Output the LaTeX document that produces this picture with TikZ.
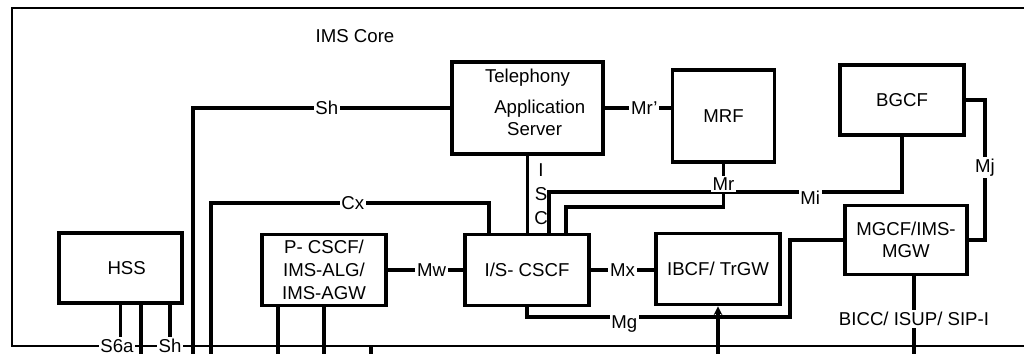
\documentclass[tikz,border=0pt]{standalone}
\usepackage{fontspec}
\setmainfont{Liberation Sans}
\usetikzlibrary{arrows.meta,positioning}
\newcommand{\px}{0.02cm}
\tikzset{
  nebox/.style 2 args={draw, line width=2.1pt, fill=white, align=center,
    inner sep=1pt, minimum width=#1*\px, minimum height=#2*\px},
  link/.style={line width=1.9pt},
  ifname/.style={fill=white, inner sep=1pt},
}

\begin{document}
\begin{tikzpicture}[x=\px,y=-\px,font=\fontsize{10.6}{12.5}\selectfont,>=Stealth]
\useasboundingbox (0,0) rectangle (1024,354);
% frame of the core
\draw[line width=1.2pt] (1040,8) -- (12,8) -- (12,346) -- (1040,346);
\coordinate (frbot) at (0,346);
\node (core) at (355,36) {IMS Core};
% boxes
\node[nebox={151}{92}, text depth=6.5pt] (tas) at (527.5,108) {Telephony\\[5pt]\hspace*{14pt}Application\\\hspace*{8pt}Server};
\node[nebox={102}{92}] (mrf) at (723.5,116) {MRF};
\node[nebox={124}{70}] (bgcf) at (902,100) {BGCF};
\node[nebox={123}{70}] (hss) at (120.5,268) {\hspace*{7pt}HSS};
\node[nebox={124}{71}] (pcscf) at (324,270) {P- CSCF/\\[0.5pt]IMS-ALG/\\[0.5pt]IMS-AGW};
\node[nebox={124}{71}] (iscscf) at (527,270) {I/S- CSCF};
\node[nebox={124}{71}] (ibcf) at (718,269) {IBCF/ TrGW};
\node[nebox={122}{69}] (mgcf) at (906,240) {MGCF/IMS-\\MGW};
% Sh and Cx towards the HSS
\coordinate (shdown) at (193,360);
\draw[link] (tas.west) -- node[ifname,pos=0.48] (shlbl) {Sh} (tas.west -| shdown) -- (shdown);
\coordinate (cxc) at (489,203);
\coordinate (cxdown) at (211,360);
\draw[link] (cxc |- iscscf.north) -- (cxc) -- node[ifname,pos=0.49] (cxlbl) {Cx} (cxc -| cxdown) -- (cxdown);
% Mw, Mx, Mr'
\draw[link] (pcscf.east) -- node[ifname,pos=0.58] (mwlbl) {Mw} (iscscf.west |- pcscf.east);
\draw[link] (iscscf.east) -- node[ifname] (mxlbl) {Mx} (ibcf.west |- iscscf.east);
\draw[link] (tas.east) -- node[ifname,pos=0.6] (mrplbl) {Mr'} (mrf.west |- tas.east);
% ISC
\draw[link] (tas.south) -- (tas.south |- iscscf.north);
\node[align=center, font=\fontsize{10.6}{13.5}\selectfont] (isclbl) at (541,194) {I\\S\\C};
% Mi
\coordinate (mic) at (549,192);
\draw[link] (mic |- iscscf.north) -- (mic) -- node[ifname,pos=0.74,yshift=-3pt] (milbl) {Mi} (mic -| bgcf.south) -- (bgcf.south);
% Mr
\coordinate (mrc) at (566,207);
\draw[link] (mrc |- iscscf.north) -- (mrc) -- (mrc -| mrf.south) -- node[ifname,pos=0.53] (mrlbl) {Mr} (mrf.south);
% Mj
\coordinate (mjc) at (985,0);
\draw[link] (bgcf.east) -- (bgcf.east -| mjc) -- node[ifname,pos=0.48] (mjlbl) {Mj} (mjc |- mgcf.east) -- (mgcf.east);
% Mg
\coordinate (mgc) at (790,317);
\draw[link] (iscscf.south) -- (iscscf.south |- mgc) -- node[ifname,pos=0.37,yshift=-4pt] (mglbl) {Mg} (mgc) -- (mgc |- mgcf.west) -- (mgcf.west);
% lines leaving the core
\coordinate (ibin) at (718,360);
\draw[link,-{Stealth[length=5pt,width=5pt]}] (ibin) -- (ibin |- ibcf.south);
\coordinate (biccdown) at (914,360);
\draw[link] (biccdown |- mgcf.south) -- node[ifname,pos=0.51] (bicclbl) {BICC/ ISUP/ SIP-I} (biccdown);
\foreach \x/\n in {278/1,324/2}{
  \coordinate (pdown\n) at (\x,360);
  \draw[link] (pdown\n |- pcscf.south) -- (pdown\n);
}
\coordinate (extdown) at (371,360);
\draw[link] (extdown |- frbot) -- (extdown);
% HSS interfaces
\node[ifname] (s6albl) at (117,346) {S6a};
\node[ifname] (hshlbl) at (170,346) {Sh};
\draw[link] (hss.south) -- (hss.south |- s6albl.north);
\draw[link] (hshlbl.north |- hss.south) -- (hshlbl.north);
\coordinate (hssdown) at (141,360);
\draw[link] (hssdown |- hss.south) -- (hssdown);
\end{tikzpicture}
\end{document}
